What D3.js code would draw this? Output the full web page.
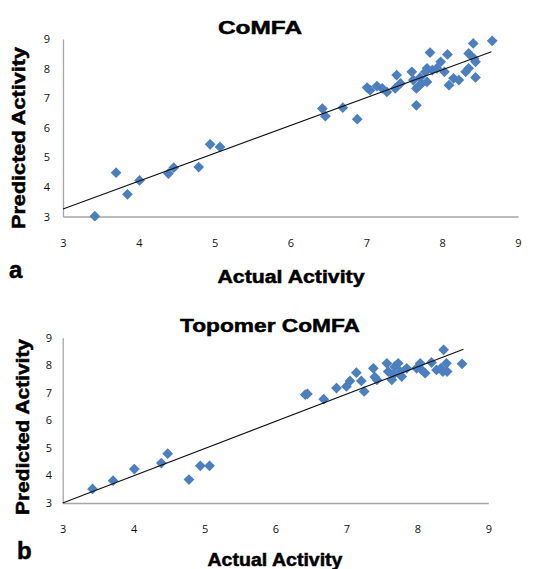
<!DOCTYPE html>
<html>
<head>
<meta charset="utf-8">
<script src="https://cdn.jsdelivr.net/npm/d3@7"></script>
<style>
  body { margin: 0; background: #fff; }
  svg { display: block; }
</style>
</head>
<body>
<div id="chart"></div>
<script>
// CoMFA panel (a)
var comfaActual = [3.42, 3.70, 3.85, 4.01, 4.39, 4.46, 4.79, 4.94, 5.07, 6.42, 6.46, 6.69, 6.88,
  7.01, 7.05, 7.14, 7.21, 7.27, 7.40, 7.38, 7.45, 7.60, 7.62, 7.66, 7.66, 7.71, 7.73, 7.80, 7.84,
  7.80, 7.87, 7.98, 8.03, 8.07, 8.09, 8.15, 8.22, 8.31, 8.35, 8.35, 8.41, 8.42, 8.44, 8.44, 8.66,
  7.69, 7.78, 7.93];
var comfaPred = [3.01, 4.48, 3.75, 4.22, 4.45, 4.65, 4.67, 5.44, 5.35, 6.65, 6.39, 6.68, 6.29,
  7.36, 7.27, 7.41, 7.33, 7.21, 7.78, 7.33, 7.50, 7.89, 7.61, 7.33, 6.76, 7.70, 7.50, 8.01, 8.54,
  7.55, 7.95, 8.23, 7.89, 8.48, 7.44, 7.67, 7.61, 7.89, 8.01, 8.51, 8.85, 8.34, 7.70, 8.23, 8.94,
  7.41, 7.89, 8.01];
var comfaFit = [[3, 3.25], [8.65, 8.57]];

// Topomer CoMFA panel (b)
var topoActual = [3.42, 3.71, 4.01, 4.39, 4.48, 4.78, 4.94, 5.07, 6.42, 6.45, 6.68, 6.86, 7.00,
  7.05, 7.14, 7.21, 7.25, 7.38, 7.40, 7.43, 7.57, 7.59, 7.64, 7.66, 7.68, 7.73, 7.76, 7.78, 7.85,
  7.99, 8.04, 8.06, 8.11, 8.20, 8.27, 8.33, 8.37, 8.36, 8.41, 8.42, 8.63];
var topoPred = [3.51, 3.81, 4.23, 4.45, 4.79, 3.85, 4.35, 4.35, 6.93, 6.96, 6.77, 7.17, 7.23,
  7.43, 7.73, 7.43, 7.05, 7.89, 7.57, 7.47, 8.07, 7.77, 7.47, 7.65, 7.95, 8.07, 7.77, 7.59, 7.89,
  7.89, 8.07, 7.83, 7.71, 8.10, 7.83, 7.89, 8.56, 7.77, 8.07, 7.77, 8.05];
var topoFit = [[3, 3], [8.65, 8.58]];

var tickValues = [3, 4, 5, 6, 7, 8, 9];
var xTitle = 'Actual Activity';
var yTitle = 'Predicted Activity';

var width = 536, height = 569;
var markerColor = '#4a7fc1';
var axisColor = '#a6a6a6';

var svg = d3.select('#chart').append('svg')
  .attr('width', width)
  .attr('height', height);

var panels = [
  { title: 'CoMFA', letter: 'a', actual: comfaActual, pred: comfaPred, fit: comfaFit,
    x0: 63, x1: 518, y0: 216.5, y1: 39,
    titleX: 260, titleY: 34, titleLen: 84,
    yLabX: 25, yLabY: 138, yLabLen: 182,
    xLabX: 291, xLabY: 283, xLabLen: 147,
    letX: 9, letY: 278, yTickX: 47, xTickY: 247 },
  { title: 'Topomer CoMFA', letter: 'b', actual: topoActual, pred: topoPred, fit: topoFit,
    x0: 62.7, x1: 488.3, y0: 503, y1: 337.7,
    titleX: 270, titleY: 332, titleLen: 180,
    yLabX: 29, yLabY: 427, yLabLen: 176,
    xLabX: 275, xLabY: 566, xLabLen: 135,
    letX: 17, letY: 559, yTickX: 49, xTickY: 533 }
];

panels.forEach(function(p) {
  var x = d3.scaleLinear().domain([3, 9]).range([p.x0, p.x1]);
  var y = d3.scaleLinear().domain([3, 9]).range([p.y0, p.y1]);
  var g = svg.append('g');

  // axes, no tick marks
  var xAxis = g.append('g')
    .attr('transform', 'translate(0,' + p.y0 + ')')
    .call(d3.axisBottom(x).tickValues(tickValues).tickSize(0).tickFormat(d3.format('d')));
  var yAxis = g.append('g')
    .attr('transform', 'translate(' + p.x0 + ',0)')
    .call(d3.axisLeft(y).tickValues(tickValues).tickSize(0).tickFormat(d3.format('d')));

  [xAxis, yAxis].forEach(function(a) {
    a.select('.domain').attr('stroke', axisColor).attr('stroke-width', 1.3);
    a.selectAll('text')
      .style('font-family', '"Open Sans", "DejaVu Sans", sans-serif')
      .style('font-size', '11px')
      .attr('fill', '#111');
  });
  xAxis.selectAll('text').attr('dy', null).attr('y', p.xTickY - p.y0);
  yAxis.selectAll('text').attr('x', p.yTickX - p.x0).attr('text-anchor', 'middle');

  // markers
  var diamond = d3.symbol().type(d3.symbolSquare).size(58);
  g.selectAll('path.pt')
    .data(p.actual.map(function(d, i){ return [d, p.pred[i]]; }))
    .enter()
    .append('path')
    .classed('pt', true)
    .attr('d', diamond)
    .attr('fill', markerColor)
    .attr('transform', function(d) {
      return 'translate(' + x(d[0]) + ',' + y(d[1]) + ') rotate(45)';
    });

  // trend line on top
  g.append('line')
    .attr('x1', x(p.fit[0][0])).attr('y1', y(p.fit[0][1]))
    .attr('x2', x(p.fit[1][0])).attr('y2', y(p.fit[1][1]))
    .attr('stroke', '#111')
    .attr('stroke-width', 1.1);

  var bold = function(sel) {
    return sel.style('font-family', '"Liberation Sans", Arial, sans-serif')
      .style('font-weight', 800)
      .attr('stroke', '#000')
      .attr('stroke-width', 0.5);
  };

  bold(g.append('text'))
    .attr('x', p.titleX).attr('y', p.titleY)
    .attr('text-anchor', 'middle')
    .style('font-size', '19px')
    .attr('textLength', p.titleLen)
    .attr('lengthAdjust', 'spacingAndGlyphs')
    .text(p.title);

  bold(g.append('text'))
    .attr('transform', 'translate(' + p.yLabX + ',' + p.yLabY + ') rotate(-90)')
    .attr('text-anchor', 'middle')
    .style('font-size', '18px')
    .attr('textLength', p.yLabLen)
    .attr('lengthAdjust', 'spacingAndGlyphs')
    .text(yTitle);

  bold(g.append('text'))
    .attr('x', p.xLabX).attr('y', p.xLabY)
    .attr('text-anchor', 'middle')
    .style('font-size', '18px')
    .attr('textLength', p.xLabLen)
    .attr('lengthAdjust', 'spacingAndGlyphs')
    .text(xTitle);

  bold(g.append('text'))
    .attr('x', p.letX).attr('y', p.letY)
    .style('font-size', '24px')
    .text(p.letter);
});
</script>
</body>
</html>
